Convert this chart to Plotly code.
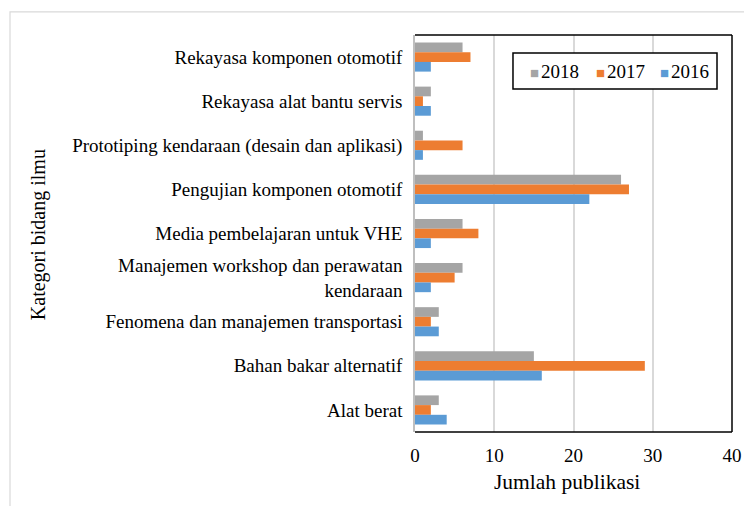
import plotly.graph_objects as go

categories = [
    "Rekayasa komponen otomotif",
    "Rekayasa alat bantu servis",
    "Prototiping kendaraan (desain dan aplikasi)",
    "Pengujian komponen otomotif",
    "Media pembelajaran untuk VHE",
    "Manajemen workshop dan perawatan<br>kendaraan",
    "Fenomena dan manajemen transportasi",
    "Bahan bakar alternatif",
    "Alat berat",
]
v2018 = [6, 2, 1, 26, 6, 6, 3, 15, 3]
v2017 = [7, 1, 6, 27, 8, 5, 2, 29, 2]
v2016 = [2, 2, 1, 22, 2, 2, 3, 16, 4]
series_names = ["2018", "2017", "2016"]
series_colors = ["#A5A5A5", "#ED7D31", "#5B9BD5"]
x_ticks = [0, 10, 20, 30, 40]

FONT = "Liberation Serif"

fig = go.Figure()
for name, vals, col in zip(series_names, [v2018, v2017, v2016], series_colors):
    fig.add_trace(go.Bar(y=categories, x=vals, name=name, orientation="h",
                         showlegend=False,
                         marker=dict(color=col, line=dict(width=0))))

# legend entries (same order as the traces), inside a bordered box
legend_x = [0.3565, 0.5647, 0.7666]
legend_ann = []
for name, col, lx in zip(series_names, series_colors, legend_x):
    legend_ann.append(dict(
        text=f"<span style='color:{col};font-size:15px'>■</span><span style='font-size:8px'> </span>{name}",
        xref="paper", yref="paper", x=lx, y=0.9093, xanchor="left", yanchor="middle",
        showarrow=False, font=dict(family=FONT, size=19, color="black")))

fig.update_layout(
    width=744, height=498,
    margin=dict(l=407, r=20, t=27, b=74, autoexpand=False),
    paper_bgcolor="white", plot_bgcolor="white",
    font=dict(family=FONT, size=19, color="black"),
    barmode="group", bargap=0.34, bargroupgap=0.0,
    showlegend=False,
    xaxis=dict(range=[0, 40], tickvals=x_ticks, showgrid=True, gridcolor="#D9D9D9",
               gridwidth=1.5, zeroline=False, showline=False, ticks="",
               ticklabelstandoff=10,
               tickfont=dict(family=FONT, size=19), fixedrange=True, automargin=False),
    yaxis=dict(autorange="reversed", showline=True, linecolor="#BFBFBF", linewidth=1.5,
               ticks="", ticklabelstandoff=7, showgrid=False, automargin=False,
               tickfont=dict(family=FONT, size=19)),
    shapes=[
        dict(type="rect", xref="paper", yref="paper", x0=-1.2776, x1=1.2, y0=-0.3, y1=1.058,
             line=dict(color="#D9D9D9", width=1.2), fillcolor="rgba(0,0,0,0)", layer="below"),
        dict(type="line", xref="paper", yref="paper", x0=0, x1=1, y0=1, y1=1,
             line=dict(color="black", width=1.5)),
        dict(type="line", xref="paper", yref="paper", x0=1, x1=1, y0=0, y1=1,
             line=dict(color="black", width=1.5)),
        dict(type="line", xref="paper", yref="paper", x0=0, x1=1, y0=0, y1=0,
             line=dict(color="black", width=1.5)),
        dict(type="rect", xref="paper", yref="paper", x0=0.3091, x1=0.9527, y0=0.864, y1=0.9547,
             line=dict(color="black", width=1.5), fillcolor="white", layer="above"),
    ],
    annotations=[
        dict(text="Kategori bidang ilmu", xref="paper", yref="paper", x=-1.189, y=0.496,
             textangle=-90, showarrow=False, font=dict(family=FONT, size=20),
             xanchor="center", yanchor="middle"),
        dict(text="Jumlah publikasi", xref="paper", yref="paper", x=0.48, y=-0.125,
             showarrow=False, font=dict(family=FONT, size=21.5),
             xanchor="center", yanchor="middle"),
    ] + legend_ann,
)

fig.write_html("out.html")
